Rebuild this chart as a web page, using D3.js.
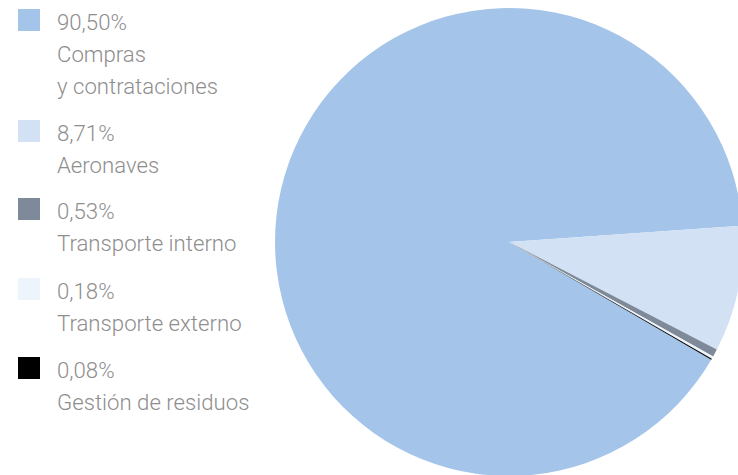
<!DOCTYPE html>
<html>
<head>
<meta charset="utf-8">
<script src="https://cdn.jsdelivr.net/npm/d3@7"></script>
<style>
  html, body { margin: 0; padding: 0; background: #fff; }
  svg { display: block; }
  text { font-family: Roboto, "Open Sans", sans-serif; font-weight: 300; fill: #8e8e8e; }
</style>
</head>
<body>
<svg id="chart" width="738" height="475"></svg>
<script>
// Category names (each entry may span several lines)
const categories = [
  ["Compras", "y contrataciones"],
  ["Aeronaves"],
  ["Transporte interno"],
  ["Transporte externo"],
  ["Gestión de residuos"]
];
// Share of each category, in percent
const shares = [90.50, 8.71, 0.53, 0.18, 0.08];
// Printed labels for the shares
const shareLabels = ["90,50%", "8,71%", "0,53%", "0,18%", "0,08%"];
const colors = ["#a4c5e9", "#d2e1f4", "#7e8a99", "#eef4fb", "#000000"];

const svg = d3.select("#chart");

const data = shares.map((v, i) => ({ name: categories[i], value: v, label: shareLabels[i], color: colors[i] }));

// Pie: the large slice sweeps round so the small ones sit to the right
const cx = 509, cy = 242, r = 234;
const start = -239.8 * Math.PI / 180;
const pie = d3.pie().sort(null).value(d => d.value)
  .startAngle(start).endAngle(start + 2 * Math.PI);
const arc = d3.arc().innerRadius(0).outerRadius(r);

svg.append("g")
  .attr("transform", `translate(${cx},${cy})`)
  .selectAll("path")
  .data(pie(data))
  .join("path")
  .attr("d", arc)
  .attr("fill", d => d.data.color);

// Legend
const squareTops = [9, 120, 198, 278, 357];
const lineH = 32;
const fontSize = 22.2;
const legend = svg.append("g");
const items = legend.selectAll("g").data(data).join("g")
  .attr("transform", (d, i) => `translate(0,${squareTops[i]})`);

items.append("rect")
  .attr("x", 18).attr("y", 0).attr("width", 22).attr("height", 22)
  .attr("fill", d => d.color);

items.append("text")
  .attr("x", 57).attr("y", 21)
  .attr("font-size", fontSize)
  .text(d => d.label);

items.each(function(d) {
  d3.select(this).selectAll("text.name").data(d.name).join("text")
    .attr("class", "name")
    .attr("x", 57)
    .attr("y", (t, j) => 21 + lineH * (j + 1))
    .attr("font-size", fontSize)
    .text(t => t);
});
</script>
</body>
</html>
